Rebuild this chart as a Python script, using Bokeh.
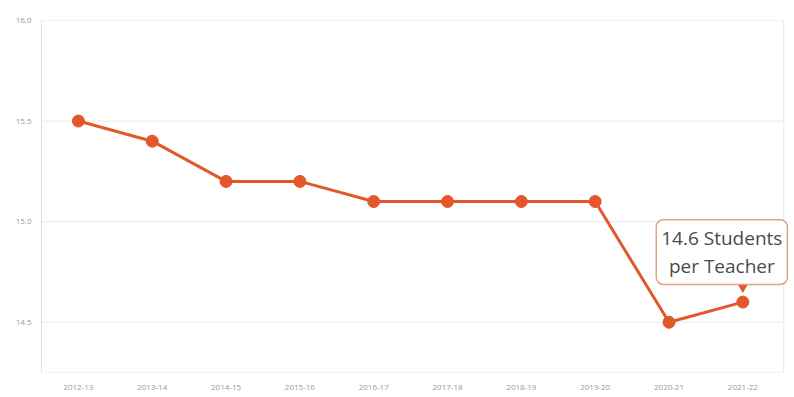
from bokeh.plotting import figure
from bokeh.models import FixedTicker, Label, Range1d
from bokeh.embed import file_html
from bokeh.resources import INLINE

years = ["2012-13", "2013-14", "2014-15", "2015-16", "2016-17",
         "2017-18", "2018-19", "2019-20", "2020-21", "2021-22"]
ratio = [15.5, 15.4, 15.2, 15.2, 15.1, 15.1, 15.1, 15.1, 14.5, 14.6]
y_ticks = [14.5, 15.0, 15.5, 16.0]
note = "14.6 Students\nper Teacher"

xs = list(range(len(years)))
ORANGE = "#E2582B"
GRID = "#e8e8e8"
Y0, Y1 = 14.25, 16.0
X0 = -0.5
X1 = len(years) - 0.5 + 0.055   # right border of plot panel

p = figure(width=794, height=397, output_backend="svg", toolbar_location=None,
           x_range=Range1d(X0, len(years) - 0.5 + 0.2), y_range=Range1d(Y0, Y1),
           min_border_left=41, min_border_right=0, min_border_top=20, min_border_bottom=25)
p.frame_width = 753
p.frame_height = 352

p.outline_line_color = None
p.xgrid.grid_line_color = None
p.ygrid.grid_line_color = None

# panel grid lines / borders (stop short of the window's right edge)
p.segment(x0=[X0] * len(y_ticks), x1=[X1] * len(y_ticks), y0=y_ticks, y1=y_ticks,
          line_color=GRID, line_width=1)
p.segment(x0=[X0, X1], x1=[X1, X1], y0=[Y0, Y0], y1=[Y0, Y1],
          line_color=GRID, line_width=1)

p.xaxis.ticker = FixedTicker(ticks=xs)
p.xaxis.major_label_overrides = {i: y for i, y in enumerate(years)}
p.yaxis.ticker = FixedTicker(ticks=y_ticks)
p.yaxis.major_label_overrides = {t: f"{t:.1f}" for t in y_ticks}
for ax in (p.xaxis[0], p.yaxis[0]):
    ax.axis_line_color = "#e0e0e0"
    ax.major_tick_line_color = None
    ax.minor_tick_line_color = None
    ax.major_label_text_color = "#9a9a9a"
    ax.major_label_text_font = "Open Sans"
    ax.major_label_text_font_size = "8px"
p.xaxis.axis_line_color = None
p.xaxis.major_label_standoff = 6
p.yaxis.major_label_standoff = 4

p.line(xs, ratio, line_color=ORANGE, line_width=3)
p.scatter(xs, ratio, size=12, fill_color=ORANGE, line_color=ORANGE)

# pointer triangle above the last point
p.scatter([xs[-1]], [ratio[-1] + 0.075], marker="inverted_triangle", size=9,
          fill_color=ORANGE, line_color=ORANGE)

lab = Label(x=xs[-1], y=ratio[-1], x_offset=-21, y_offset=50, text=note,
            text_align="center", text_baseline="middle",
            text_font="Open Sans", text_font_size="19px", text_color="#4a4a4a",
            text_line_height=1.1,
            background_fill_color="white", border_line_color="#E8A080",
            border_line_width=1.5, border_radius=7, padding=5)
p.add_layout(lab)

open("out.html", "w").write(file_html(p, INLINE))
